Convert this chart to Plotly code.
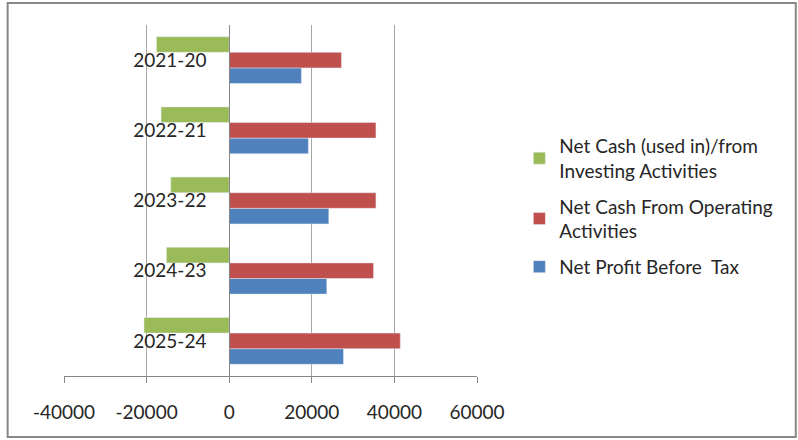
import plotly.graph_objects as go

categories = ["2025-24", "2024-23", "2023-22", "2022-21", "2021-20"]
net_profit = [27670, 23630, 24120, 19170, 17480]
operating = [41430, 34950, 35530, 35530, 27180]
investing = [-20630, -15200, -14150, -16500, -17620]
x_ticks = [-40000, -20000, 0, 20000, 40000, 60000]

FONT = "Lato"
fig = go.Figure()
fig.add_trace(go.Bar(y=categories, x=net_profit, orientation="h", legendgroup="a",
                     legendrank=3,
                     name="Net Profit Before  Tax", marker_color="#4F81BD"))
fig.add_trace(go.Bar(y=categories, x=operating, orientation="h", legendgroup="b",
                     legendrank=2,
                     name="Net Cash From Operating<br>Activities", marker_color="#C0504D"))
fig.add_trace(go.Bar(y=categories, x=investing, orientation="h", legendgroup="c",
                     legendrank=1,
                     name="Net Cash (used in)/from<br>Investing Activities", marker_color="#9BBB59"))

L, R, T, B = 64.3, 476.7, 25, 376
W, H = 798, 440
def px(x):
    return (x - L) / (R - L)
def py(y):
    return (B - y) / (B - T)

fig.update_layout(
    width=W, height=H,
    margin=dict(l=L, r=W - R, t=T, b=H - B),
    paper_bgcolor="white", plot_bgcolor="white",
    barmode="group", bargap=0.333, bargroupgap=0,
    font=dict(family=FONT, size=19, color="#262626"),
    showlegend=True,
    legend=dict(x=px(519), y=py(127), xanchor="left", yanchor="top",
                traceorder="grouped", font=dict(size=19, family=FONT),
                tracegroupgap=8, bgcolor="rgba(0,0,0,0)"),
    xaxis=dict(range=[-40000, 60000], tickvals=x_ticks,
               ticktext=[str(v) for v in x_ticks],
               showgrid=True, gridcolor="#a6a6a6", gridwidth=1,
               zeroline=False, showline=True, linecolor="#868686", linewidth=1,
               ticks="outside", ticklen=6, tickcolor="#868686",
               ticklabelstandoff=13,
               tickfont=dict(size=19, family=FONT, color="#262626")),
    yaxis=dict(range=[-0.5, 4.5], anchor="free", position=px(229.3),
               showline=True, linecolor="#868686", linewidth=1,
               showgrid=False, zeroline=False, ticks="",
               ticklabelstandoff=19,
               tickfont=dict(size=19, family=FONT, color="#262626")),
    shapes=[dict(type="rect", xref="paper", yref="paper",
                 x0=px(8), x1=px(795), y0=py(437), y1=py(3),
                 line=dict(color="#878787", width=2), fillcolor="rgba(0,0,0,0)",
                 layer="below")],
)

fig.write_html("out.html")
